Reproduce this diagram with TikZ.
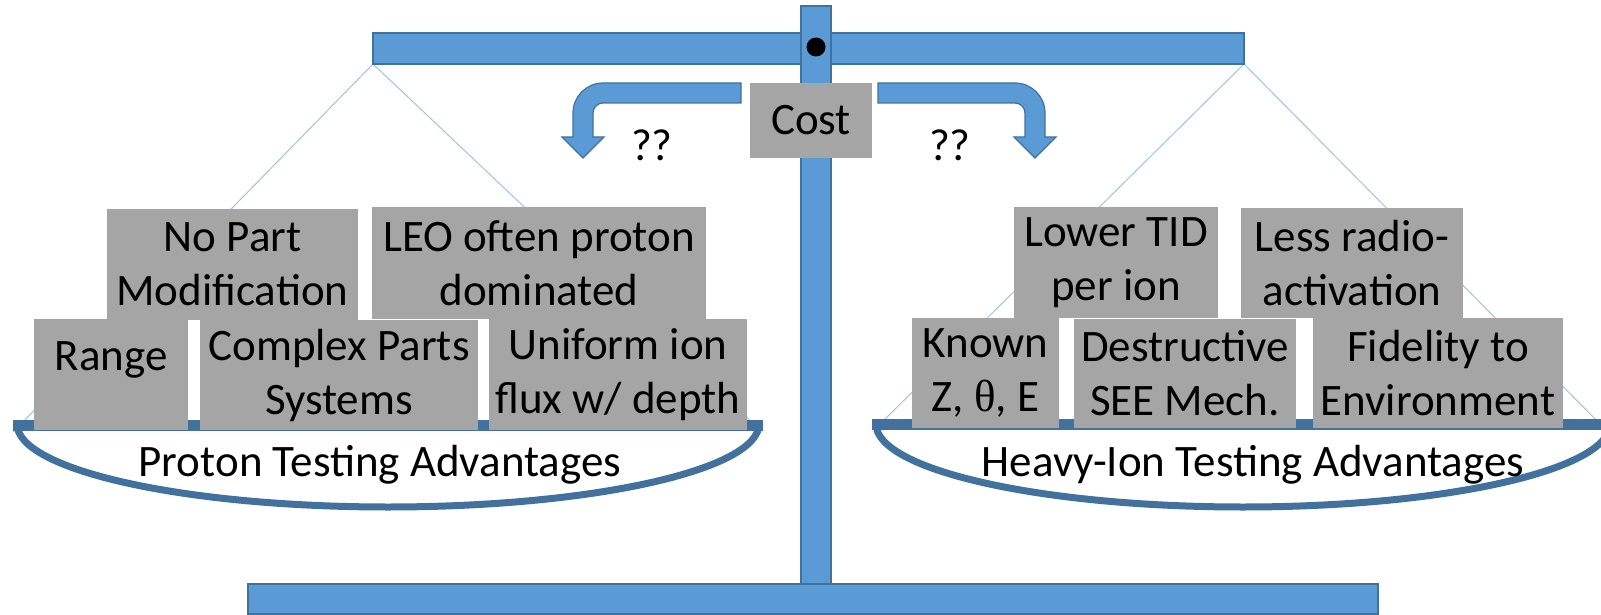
\documentclass[tikz,border=0pt]{standalone}
\usepackage{fontspec}
\setmainfont{Carlito}
\newfontfamily\greekserif{Liberation Serif}
\definecolor{beamfill}{HTML}{5B9BD5}
\definecolor{beamdraw}{HTML}{41719C}
\definecolor{pancol}{HTML}{41719C}
\definecolor{boxgray}{HTML}{A5A5A5}
\definecolor{hangblue}{HTML}{9DC3E6}
\newcommand\bigfont{\fontsize{45}{54}\selectfont}
\begin{document}
\begin{tikzpicture}[x=1pt,y=-1pt,
  box/.style={fill=boxgray, inner sep=0pt, align=center, font=\bigfont},
  lbl/.style={inner sep=0pt, align=center, font=\bigfont},
  hang/.style={draw=hangblue, line width=1pt},
  bar/.style={fill=beamfill, draw=beamdraw, line width=1.5pt},
  bentarrow/.style={fill=beamfill, draw=beamdraw, line width=1.2pt},
  panbowl/.style={draw=pancol, line width=7pt},
  panrim/.style={fill=pancol}]
\useasboundingbox (0,0) rectangle (1601,615);
\clip (0,0) rectangle (1601,615);

% hanging lines
\coordinate (bl) at (373,64);
\coordinate (br) at (1244,64);
\coordinate (pl1) at (13,432);
\coordinate (pl2) at (758,428);
\coordinate (pr1) at (878,426);
\coordinate (pr2) at (1612,436);
\draw[hang] (pl1) -- (bl) -- (pl2);
\draw[hang] (pr1) -- (br) -- (pr2);

% pans
\draw[panbowl] (17,424) arc[start angle=180, end angle=0, x radius=371, y radius=83];
\fill[panrim] (13,420) rectangle (763,431);
\draw[panbowl] (876,424) arc[start angle=180, end angle=0, x radius=367, y radius=83];
\fill[panrim] (872,419) rectangle (1615,430);

% left boxes
\node[box, minimum width=251, minimum height=111] (np) at (232.5,264.5) {No Part\\Modification};
\node[box, minimum width=334, minimum height=112] (leo) at (539,263) {LEO often proton\\dominated};
\node[box, minimum width=154, minimum height=111] (range) at (111,374.5) {\raisebox{4.5pt}[0pt][0pt]{Range}};
\node[box, minimum width=278, minimum height=110] (cps) at (339,375) {Complex Parts\\Systems};
\node[box, minimum width=258, minimum height=111] (uni) at (618,374.5) {Uniform ion\\flux w/ depth};

% right boxes
\node[box, minimum width=204, minimum height=111] (tid) at (1116,262.5) {Lower TID\\per ion};
\node[box, minimum width=222, minimum height=110] (less) at (1352,263) {Less radio-\\activation};
\node[box, minimum width=147, minimum height=110] (known) at (985.5,373) {Known\\Z, {\greekserif θ}, E};
\node[box, minimum width=222, minimum height=109] (dest) at (1185,373.5) {Destructive\\SEE Mech.};
\node[box, minimum width=250, minimum height=110] (fid) at (1438,373) {Fidelity to\\Environment};

% pan labels
\node[lbl] (ptl) at (380,465) {Proton Testing Advantages};
\node[lbl] (htl) at (1253,465) {Heavy-Ion Testing Advantages};

% stand
\draw[bar] (248,584) rectangle (1378,614);
\draw[bar] (373,33) rectangle (1244,64);
\draw[bar] (801,6) rectangle (831,584);
\fill[black] (816,47) circle[radius=9.5];

% bent arrows
\draw[bentarrow] (741,83) -- (603,83) .. controls (586.4,83) and (573,96.4) .. (573,113)
  -- (573,137) -- (562,137) -- (583,158) -- (604,137) -- (593,137) -- (593,113)
  .. controls (593,107.5) and (597.5,103) .. (603,103) -- (741,103) -- cycle;
\draw[bentarrow] (878,83) -- (1015,83) .. controls (1031.6,83) and (1045,96.4) .. (1045,113)
  -- (1045,137) -- (1056,137) -- (1035,158) -- (1014,137) -- (1025,137) -- (1025,113)
  .. controls (1025,107.5) and (1020.5,103) .. (1015,103) -- (878,103) -- cycle;

% cost
\node[box, minimum width=122, minimum height=75] (cost) at (811,120.5) {Cost};
\node[lbl] (ql) at (652,145) {??};
\node[lbl] (qr) at (950,145) {??};
\end{tikzpicture}
\end{document}
